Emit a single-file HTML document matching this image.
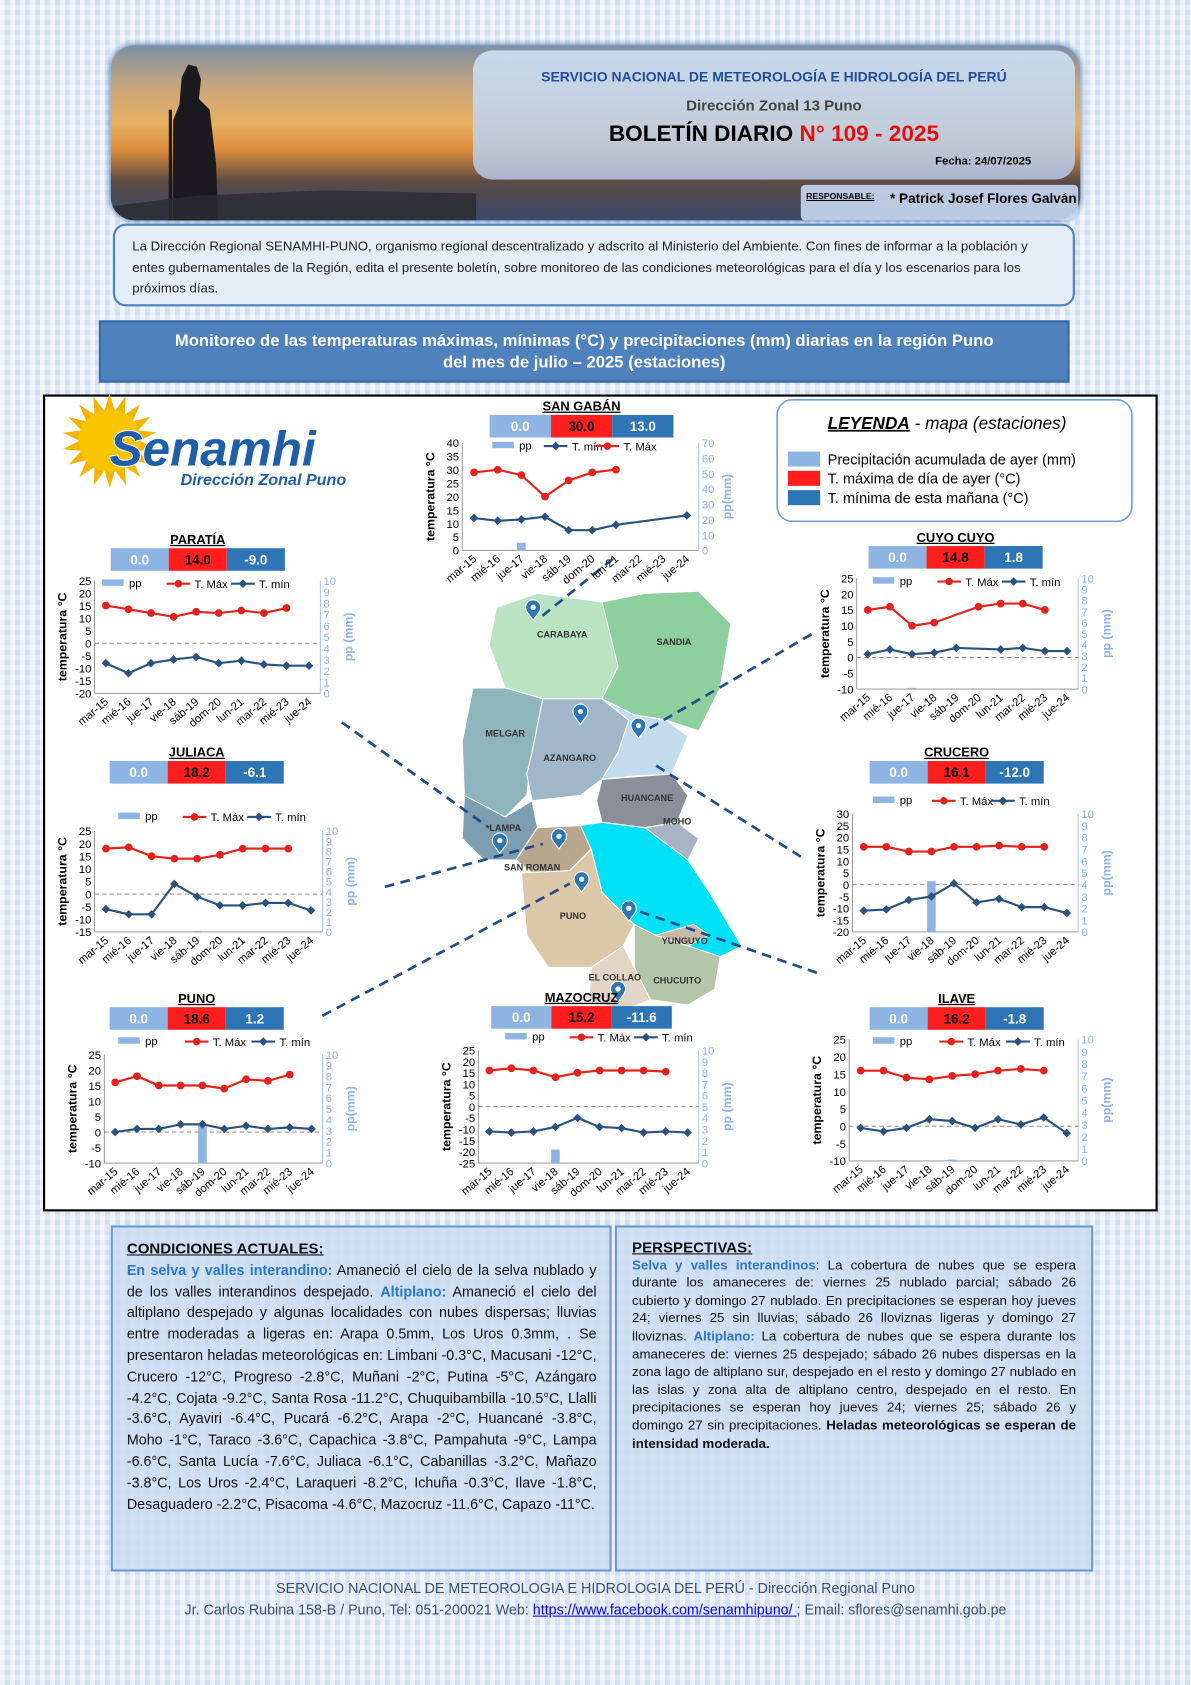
<!DOCTYPE html>
<html><head><meta charset="utf-8">
<style>
html,body{margin:0;padding:0;}
body{width:1191px;height:1685px;overflow:hidden;background:#dde8f5;
background-image:repeating-linear-gradient(90deg,rgba(255,255,255,.55) 0 5px,rgba(255,255,255,0) 5px 10px),repeating-linear-gradient(0deg,rgba(190,210,235,.35) 0 5px,rgba(255,255,255,0) 5px 10px);
font-family:"Liberation Sans",sans-serif;}
#w{position:absolute;left:0;top:0;width:1108px;height:1568px;transform:scale(1.07491);transform-origin:0 0;}
.a{position:absolute;}
#hdr{left:103px;top:42px;width:902px;height:163px;border-radius:22px;overflow:hidden;
background:linear-gradient(180deg,#7d8fa6 0%,#c9a77a 25%,#e8b060 45%,#d98c3a 60%,#5a4a45 78%,#3a4a6a 100%);box-shadow:0 0 6px #3a6fb0;}
#pan{left:440px;top:47px;width:560px;height:120px;border-radius:18px;background:linear-gradient(180deg,rgba(205,222,242,.93),rgba(180,200,230,.85));}
#resp{left:745px;top:172px;width:258px;height:33px;background:rgba(200,215,240,.9);border-radius:4px;}
#intro{left:105px;top:208px;width:895px;height:77px;border:2px solid #4f81bd;border-radius:12px;background:#e4ecf6;box-sizing:border-box;padding:10px 16px 0 16px;font-size:12.3px;line-height:19.5px;color:#222;}
#title{left:92px;top:298px;width:903px;height:58px;background:#4f81bd;border:2px solid #3b6aa5;box-sizing:border-box;color:#fff;font-weight:bold;text-align:center;font-size:15.5px;line-height:20px;padding-top:8px;}
#main{left:40px;top:367px;width:1037px;height:760px;background:#fff;border:2px solid #000;box-sizing:border-box;}
.box{top:1140px;height:322px;border:2px solid #6f9bd1;background:rgba(200,218,242,.75);box-sizing:border-box;}
#cond{left:103px;width:466px;padding:10px 12px 0 13px;font-size:13.3px;line-height:19.8px;text-align:justify;color:#111;}
#persp{left:572px;width:445px;padding:10px 14px 0 14px;font-size:12.4px;line-height:16.6px;text-align:justify;color:#111;}
.h{font-weight:bold;text-decoration:underline;font-size:14px;display:block;margin-bottom:0px;}
.b{color:#2b78c5;font-weight:bold;}
#foot{left:0;width:1108px;top:1468px;text-align:center;font-size:13.3px;line-height:20px;color:#3a4f72;}
</style></head><body><div id="w">
<div class="a" id="hdr">
<svg width="340" height="163" style="position:absolute;left:0;top:0">
<path d="M58 163 L58 70 L64 55 L66 30 L72 18 L80 20 L84 32 L82 50 L92 60 L98 110 L100 163 Z" fill="#1c1a1e"/>
<rect x="54" y="60" width="3" height="103" fill="#1c1a1e"/>
<path d="M0 150 L80 140 L200 135 L340 138 L340 163 L0 163Z" fill="#2a2a30" opacity=".8"/>
</svg></div>
<div class="a" id="pan"></div>
<div class="a" id="resp"></div>
<div class="a" style="left:440px;top:64px;width:560px;text-align:center;color:#1f4e9a;font-weight:bold;font-size:13px;">SERVICIO NACIONAL DE METEOROLOGÍA E HIDROLOGÍA DEL PERÚ</div>
<div class="a" style="left:440px;top:90px;width:560px;text-align:center;color:#444;font-weight:bold;font-size:14px;">Dirección Zonal 13 Puno</div>
<div class="a" style="left:440px;top:113px;width:560px;text-align:center;color:#000;font-weight:bold;font-size:21px;">BOLETÍN DIARIO <span style="color:#e31010">N° 109 - 2025</span></div>
<div class="a" style="left:870px;top:144px;color:#000;font-weight:bold;font-size:10.5px;">Fecha: 24/07/2025</div>
<div class="a" style="left:750px;top:178px;color:#000;font-weight:bold;font-size:8px;text-decoration:underline;">RESPONSABLE:</div>
<div class="a" style="left:828px;top:178px;color:#000;font-weight:bold;font-size:12.6px;">* Patrick Josef Flores Galván</div>
<div class="a" id="intro">La Dirección Regional SENAMHI-PUNO, organismo regional descentralizado y adscrito al Ministerio del Ambiente. Con fines de informar a la población y entes gubernamentales de la Región, edita el presente boletín, sobre monitoreo de las condiciones meteorológicas para el día y los escenarios para los próximos días.</div>
<div class="a" id="title">Monitoreo de las temperaturas máximas, mínimas (°C) y precipitaciones (mm) diarias en la región Puno<br>del mes de julio – 2025 (estaciones)</div>
<div class="a" id="main"></div>
<svg class="a" id="sv" style="left:0;top:0" width="1108" height="1568" font-family="Liberation Sans, sans-serif"></svg>
<div class="a box" id="cond"><span class="h">CONDICIONES ACTUALES:</span><span class="b">En selva y valles interandino:</span> Amaneció el cielo de la selva nublado y de los valles interandinos despejado. <span class="b">Altiplano:</span> Amaneció el cielo del altiplano despejado y algunas localidades con nubes dispersas; lluvias entre moderadas a ligeras en: Arapa 0.5mm, Los Uros 0.3mm, . Se presentaron heladas meteorológicas en: Limbani -0.3°C, Macusani -12°C, Crucero -12°C, Progreso -2.8°C, Muñani -2°C, Putina -5°C, Azángaro -4.2°C, Cojata -9.2°C, Santa Rosa -11.2°C, Chuquibambilla -10.5°C, Llalli -3.6°C, Ayaviri -6.4°C, Pucará -6.2°C, Arapa -2°C, Huancané -3.8°C, Moho -1°C, Taraco -3.6°C, Capachica -3.8°C, Pampahuta -9°C, Lampa -6.6°C, Santa Lucía -7.6°C, Juliaca -6.1°C, Cabanillas -3.2°C, Mañazo -3.8°C, Los Uros -2.4°C, Laraqueri -8.2°C, Ichuña -0.3°C, Ilave -1.8°C, Desaguadero -2.2°C, Pisacoma -4.6°C, Mazocruz -11.6°C, Capazo -11°C.</div>
<div class="a box" id="persp"><span class="h">PERSPECTIVAS:</span><span class="b">Selva y valles interandinos</span>: La cobertura de nubes que se espera durante los amaneceres de: viernes 25 nublado parcial; sábado 26 cubierto y domingo 27 nublado. En precipitaciones se esperan hoy jueves 24; viernes 25 sin lluvias; sábado 26 lloviznas ligeras y domingo 27 lloviznas. <span class="b">Altiplano:</span> La cobertura de nubes que se espera durante los amaneceres de: viernes 25 despejado; sábado 26 nubes dispersas en la zona lago de altiplano sur, despejado en el resto y domingo 27 nublado en las islas y zona alta de altiplano centro, despejado en el resto. En precipitaciones se esperan hoy jueves 24; viernes 25; sábado 26 y domingo 27 sin precipitaciones. <b>Heladas meteorológicas se esperan de intensidad moderada.</b></div>
<div class="a" id="foot">SERVICIO NACIONAL DE METEOROLOGIA E HIDROLOGIA DEL PERÚ - Dirección Regional Puno<br>Jr. Carlos Rubina 158-B / Puno, Tel: 051-200021 Web: <span style="color:#0000ee;text-decoration:underline">https://www.facebook.com/senamhipuno/ </span> ; Email: sflores@senamhi.gob.pe</div>
</div>
<script>
const S=document.getElementById('sv');let H='';
function t(x,y,s,a){H+=`<text x="${x}" y="${y}" ${a||''}>${s}</text>`;}
const L=['mar-15','mié-16','jue-17','vie-18','sáb-19','dom-20','lun-21','mar-22','mié-23','jue-24'];
function chart(o){
 const n=10,w=o.x1-o.x0,h=o.y1-o.y0;
 const X=i=>o.x0+(i+0.5)*w/n, Y=v=>o.y1-(v-o.ymin)/(o.ymax-o.ymin)*h, P=v=>o.y1-v/o.pmax*h;
 t(o.hx,o.hy-14,o.name,'font-size="12" font-weight="bold" text-anchor="middle" text-decoration="underline"');
 const cw=o.cw||54,cx=o.hx-cw*1.5;
 [['#8db4e2',o.v[0],'#fff'],['#ff1e1e',o.v[1],'#000'],['#2e75b6',o.v[2],'#fff']].forEach((c,i)=>{
  H+=`<rect x="${cx+i*cw}" y="${o.hy-10}" width="${cw}" height="21" fill="${c[0]}"/>`;
  t(cx+i*cw+cw/2,o.hy+5,c[1],`font-size="12.5" font-weight="bold" text-anchor="middle" fill="${c[2]}"`);});
 H+=`<line x1="${o.x0}" y1="${o.y0}" x2="${o.x0}" y2="${o.y1}" stroke="#888" stroke-width=".8"/>`;
 H+=`<line x1="${o.x1}" y1="${o.y0}" x2="${o.x1}" y2="${o.y1}" stroke="#9bbde6" stroke-width=".8"/>`;
 H+=`<line x1="${o.x0}" y1="${o.y1}" x2="${o.x1}" y2="${o.y1}" stroke="#888" stroke-width=".8"/>`;
 for(let v=o.ymin;v<=o.ymax;v+=o.st)t(o.x0-3,Y(v)+4,v,'font-size="10.5" text-anchor="end"');
 for(let v=0;v<=o.pmax;v+=o.ps)t(o.x1+3,P(v)+4,v,'font-size="10.5" fill="#8db4e2"');
 if(o.ymin<0)H+=`<line x1="${o.x0}" y1="${Y(0)}" x2="${o.x1}" y2="${Y(0)}" stroke="#777" stroke-dasharray="4,3" stroke-width=".8"/>`;
 t(0,0,o.yl||'temperatura °C',`font-size="11.5" font-weight="bold" text-anchor="middle" transform="translate(${o.x0-26},${o.y0+h/2}) rotate(-90)"`);
 t(0,0,o.pl||'pp (mm)',`font-size="11.5" font-weight="bold" fill="#8db4e2" text-anchor="middle" transform="translate(${o.x1+30},${o.y0+h/2}) rotate(-90)"`);
 L.forEach((l,i)=>t(0,0,l,`font-size="10.5" text-anchor="end" transform="translate(${X(i)+3},${o.y1+9}) rotate(-40)"`));
 (o.pp||[]).forEach((v,i)=>{if(v)H+=`<rect x="${X(i)-4}" y="${P(v)}" width="8" height="${o.y1-P(v)}" fill="#8db4e2"/>`;});
 function line(d,col,m){let pts=[];d.forEach((v,i)=>{if(v!==null)pts.push([X(i),Y(v)]);});
  H+=`<polyline points="${pts.map(p=>p.join(',')).join(' ')}" fill="none" stroke="${col}" stroke-width="2"/>`;
  pts.forEach(p=>{H+= m?`<circle cx="${p[0]}" cy="${p[1]}" r="3.6" fill="${col}"/>`:`<path d="M${p[0]} ${p[1]-4}l4 4-4 4-4-4z" fill="${col}"/>`;});}
 line(o.tx,'#e3221c',1);line(o.tn,'#2b527f',0);
 let lx=o.lx,ly=o.ly;
 const items=o.lo||['pp','max','min'];
 items.forEach((k,j)=>{const x=lx+j*o.lsp;
  if(k=='pp'){H+=`<rect x="${x}" y="${ly-4}" width="20" height="6" fill="#8db4e2"/>`;t(x+25,ly+3,'pp','font-size="10.5"');}
  else if(k=='max'){H+=`<line x1="${x}" y1="${ly}" x2="${x+22}" y2="${ly}" stroke="#e3221c" stroke-width="2"/><circle cx="${x+11}" cy="${ly}" r="3.5" fill="#e3221c"/>`;t(x+26,ly+4,'T. Máx','font-size="10.5"');}
  else{H+=`<line x1="${x}" y1="${ly}" x2="${x+22}" y2="${ly}" stroke="#2b527f" stroke-width="2"/><path d="M${x+11} ${ly-4}l4 4-4 4-4-4z" fill="#2b527f"/>`;t(x+26,ly+4,'T. mín','font-size="10.5"');}
 });
}
H+=`<g stroke="#fff" stroke-width="1">
<polygon points="462,565 500,552 560,560 590,575 575,620 560,650 505,650 470,640 455,600" fill="#b9e3c3"/>
<polygon points="560,560 600,552 650,550 680,580 670,640 650,680 620,670 590,665 560,650 575,620" fill="#8dcf9d"/>
<polygon points="440,640 470,640 505,650 495,700 490,740 470,760 440,770 432,740 430,690" fill="#8eb5bb"/>
<polygon points="505,650 560,650 585,670 575,700 560,725 540,740 495,745 490,720 495,700" fill="#9fb7c9"/>
<polygon points="560,650 590,665 620,670 640,685 625,720 590,722 560,725 575,700 585,670" fill="#c3dced"/>
<polygon points="560,725 625,720 640,740 630,765 600,770 560,765 555,745" fill="#8a8f99"/>
<polygon points="600,770 630,765 650,780 640,800 610,795" fill="#a8b4c4"/>
<polygon points="432,740 470,760 495,745 500,770 480,800 450,800 430,780" fill="#7d9db0"/>
<polygon points="480,800 500,770 540,768 550,790 530,810 495,812" fill="#b9a68f"/>
<polygon points="540,768 560,765 600,770 640,800 660,830 690,880 670,890 640,880 610,870 590,860 560,830 550,790" fill="#00e1f5"/>
<polygon points="485,812 530,810 550,790 560,830 590,860 580,880 550,900 510,900 490,870" fill="#dcc8a8"/>
<polygon points="590,860 610,870 640,880 670,890 665,920 640,935 605,930 590,900" fill="#b3c6aa"/>
<polygon points="550,900 580,880 590,900 605,930 580,940 548,930" fill="#e3d5c5"/>
<polygon points="610,870 645,860 660,870 640,880" fill="#c7b8a8"/>
</g>`;
[['CARABAYA',523,643],['SANDIA',627,650],['MELGAR',470,735],['AZANGARO',530,758],['HUANCANE',602,795],['MOHO',630,817],['LAMPA',470,823],['SAN ROMAN',495,860],['PUNO',533,905],['YUNGUYO',637,928],['CHUCUITO',630,965],['EL COLLAO',572,962]].forEach(a=>t(a[1],a[2]-50,a[0],'font-size="8.5" font-weight="bold" fill="#333" text-anchor="middle"'));
[[496,565],[540,662],[594,675],[465,782],[520,778],[541,818],[585,845],[575,920]].forEach(p=>{H+=`<path d="M${p[0]} ${p[1]+12}c-4-6-7-8-7-12a7 7 0 0 1 14 0c0 4-3 6-7 12z" fill="#2e75b6" stroke="#fff"/><circle cx="${p[0]}" cy="${p[1]}" r="2.5" fill="#fff"/>`;});
[[570,520,502,575],[318,672,455,770],[755,590,600,680],[358,825,505,785],[745,797,610,712],[300,945,530,822],[760,905,595,848]].forEach(l=>H+=`<line x1="${l[0]}" y1="${l[1]}" x2="${l[2]}" y2="${l[3]}" stroke="#1f4e89" stroke-width="2.5" stroke-dasharray="9,6"/>`);
H+=`<g>${Array.from({length:18},(_,i)=>{const a=i*Math.PI/9,c=[102,410];return `<path d="M${c[0]+Math.cos(a)*28} ${c[1]+Math.sin(a)*28} L${c[0]+Math.cos(a+.17)*44} ${c[1]+Math.sin(a+.17)*44} L${c[0]+Math.cos(a+.35)*28} ${c[1]+Math.sin(a+.35)*28}Z" fill="#f5b400"/>`}).join('')}<circle cx="102" cy="410" r="29" fill="#f8c400"/></g>`;
t(102,433,'Senamhi','font-size="46" font-weight="bold" font-style="italic" fill="#1f5ea8" stroke="#fff" stroke-width="2" paint-order="stroke"');
t(168,451,'Dirección Zonal Puno','font-size="15" font-weight="bold" font-style="italic" fill="#1f5ea8"');
H+=`<rect x="723" y="372" width="330" height="113" rx="14" fill="#fff" stroke="#6fa0d8" stroke-width="1.5"/>`;
t(770,399,'<tspan font-weight="bold" text-decoration="underline">LEYENDA</tspan> - mapa (estaciones)','font-size="16" font-style="italic"');
[['#8db4e2','Precipitación acumulada de ayer (mm)',431],['#ff1e1e','T. máxima de día de ayer (°C)',449],['#2e75b6','T. mínima de esta mañana (°C)',467]].forEach(a=>{H+=`<rect x="733" y="${a[2]-11}" width="30" height="14" fill="${a[0]}"/>`;t(770,a[2]+1,a[1],'font-size="13.5"');});
const N=null;
chart({name:'SAN GABÁN',hx:541,hy:396,cw:57,v:['0.0','30.0','13.0'],x0:430,x1:650,y0:412,y1:512,ymin:0,ymax:40,st:5,pmax:70,ps:10,yl:'temperatura °C',pl:'pp(mm)',
 tx:[29,30,28,20,26,29,30,N,N,N],tn:[12,11,11.5,12.5,7.5,7.5,9.5,N,N,13],pp:[0,0,5],lx:458,ly:415,lsp:48,lo:['pp','min','max']});
chart({name:'PARATÍA',hx:184,hy:520,v:['0.0','14.0','-9.0'],x0:88,x1:298,y0:540,y1:645,ymin:-20,ymax:25,st:5,pmax:10,ps:1,
 tx:[15,13.5,12,10.5,12.5,12,13,12,14,N],tn:[-8,-12,-8,-6.5,-5.5,-8,-7,-8.5,-9,-9],lx:95,ly:543,lsp:60,lo:['pp','max','min']});
chart({name:'CUYO CUYO',hx:889,hy:518,v:['0.0','14.8','1.8'],x0:797,x1:1003,y0:538,y1:641,ymin:-10,ymax:25,st:5,pmax:10,ps:1,
 tx:[15,16,10,11,N,16,17,17,15,N],tn:[1,2.5,1,1.5,3,N,2.5,3,2,2],pp:[0,0,0.1],lx:812,ly:541,lsp:60});
chart({name:'JULIACA',hx:183,hy:718,v:['0.0','18.2','-6.1'],x0:88,x1:300,y0:773,y1:867,ymin:-15,ymax:25,st:5,pmax:10,ps:1,
 tx:[18,18.5,15,14,14,15.5,18,18,18,N],tn:[-6,-8,-8,4,-1,-4.5,-4.5,-3.5,-3.5,-6.5],pp:[0,0,0,0,0.1],lx:110,ly:760,lsp:60});
chart({name:'CRUCERO',hx:890,hy:718,v:['0.0','16.1','-12.0'],x0:793,x1:1003,y0:757,y1:867,ymin:-20,ymax:30,st:5,pmax:10,ps:1,pl:'pp(mm)',
 tx:[16,16,14,14,16,16,16.5,16,16,N],tn:[-11,-10.5,-6.5,-5,0.5,-7.5,-6,-9.5,-9.5,-12],pp:[0,0,0,4.3],lx:812,ly:745,lsp:55});
chart({name:'PUNO',hx:183,hy:947,v:['0.0','18.6','1.2'],x0:97,x1:300,y0:981,y1:1082,ymin:-10,ymax:25,st:5,pmax:10,ps:1,pl:'pp(mm)',
 tx:[16,18,15,15,15,14,17,16.5,18.5,N],tn:[0,1,1,2.5,2.5,1,2,1,1.5,1],pp:[0,0,0,0,3.5],lx:110,ly:969,lsp:62});
chart({name:'MAZOCRUZ',hx:541,hy:946,cw:56,v:['0.0','15.2','-11.6'],x0:445,x1:650,y0:977,y1:1082,ymin:-25,ymax:25,st:5,pmax:10,ps:1,
 tx:[16,17,16,13,15,16,16,16,15.5,N],tn:[-11,-11.5,-11,-9,-5,-9,-9.5,-11.5,-11,-11.5],pp:[0,0,0,1.2],lx:470,ly:965,lsp:60});
chart({name:'ILAVE',hx:890,hy:947,v:['0.0','16.2','-1.8'],x0:790,x1:1003,y0:967,y1:1080,ymin:-10,ymax:25,st:5,pmax:10,ps:1,pl:'pp(mm)',
 tx:[16,16,14,13.5,14.5,15,16,16.5,16,N],tn:[-0.5,-1.5,-0.5,2,1.5,-0.5,2,0.5,2.5,-2],pp:[0,0,0,0,0.1],lx:812,ly:969,lsp:62});
S.innerHTML=H;
</script>
</body></html>
